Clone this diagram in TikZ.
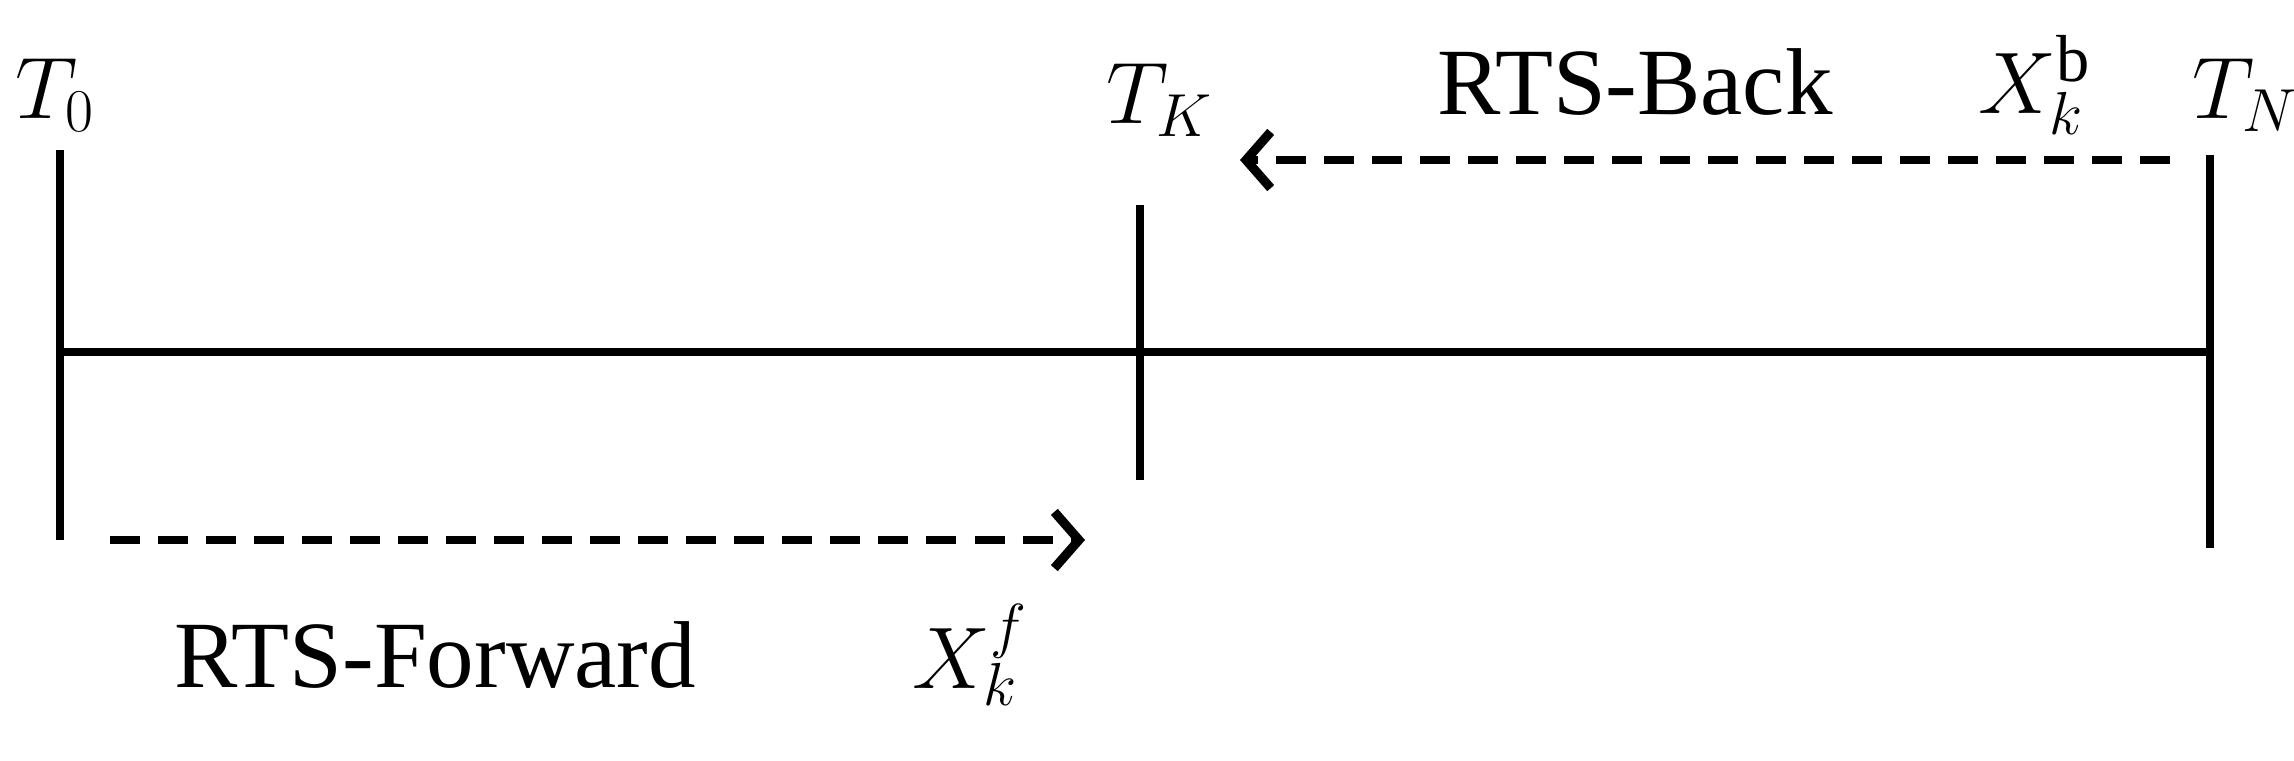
\documentclass[tikz,border=0pt]{standalone}
\usepackage{fontspec}
\setmainfont{Liberation Serif}
\usetikzlibrary{arrows.meta}
\begin{document}
\begin{tikzpicture}[x=0.01cm,y=-0.01cm,
  solidline/.style={line width=2.2pt},
  dashline/.style={line width=2.2pt,dash pattern=on 0.3cm off 0.18cm,-{Straight Barb[length=7pt,width=16pt,line width=2.6pt]}},
  lbl/.style={font=\fontsize{27}{32}\selectfont,inner sep=0pt}]
\useasboundingbox (0,0) rectangle (2294,760);
\coordinate (a0) at (60,352); \coordinate (aN) at (2210,352);
\coordinate (t0top) at (60,150); \coordinate (t0bot) at (60,540);
\coordinate (tKtop) at (1140,205); \coordinate (tKbot) at (1140,480);
\coordinate (tNtop) at (2210,155); \coordinate (tNbot) at (2210,548);
\draw[solidline] (a0) -- (aN);
\draw[solidline] (t0top) -- (t0bot);
\draw[solidline] (tKtop) -- (tKbot);
\draw[solidline] (tNtop) -- (tNbot);
\coordinate (fs) at (110,540); \coordinate (fe) at (1085,540);
\coordinate (bs) at (2170,160); \coordinate (be) at (1240,160);
\draw[dashline] (fs) -- (fe);
\draw[dashline] (bs) -- (be);
\node[lbl] (l0) at (55,95) {$T_0$};
\node[lbl] (lK) at (1160,100) {$T_K$};
\node[lbl] (lN) at (2245,95) {$T_N$};
\node[lbl] (back) at (1635,82) {RTS-Back};
\node[lbl] (fwd) at (435,655) {RTS-Forward};
\node[lbl] (xb) at (2035,85) {$X_k^{\mathrm{b}}$};
\node[lbl] (xf) at (970,655) {$X_k^{f}$};
\end{tikzpicture}
\end{document}
